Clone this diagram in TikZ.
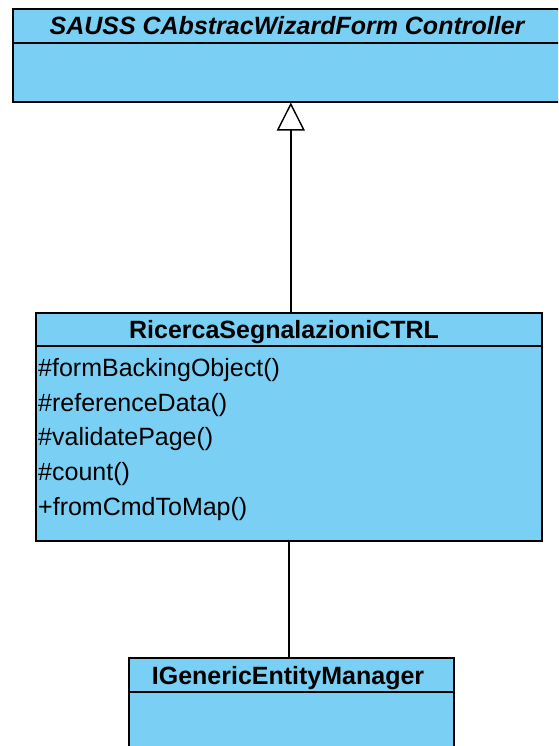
\documentclass[tikz,border=0pt]{standalone}
\usepackage{fontspec}
\setmainfont{Liberation Sans}
\usetikzlibrary{arrows.meta}
\definecolor{umlblue}{RGB}{122,207,244}
\begin{document}
\begin{tikzpicture}[x=1pt,y=-1pt,
  classbox/.style={draw=black, line width=1.6pt, fill=umlblue, rectangle, inner sep=0pt, anchor=north west},
  sepline/.style={draw=black, line width=1.6pt},
  ctitle/.style={font=\bfseries\fontsize{25}{28}\selectfont, inner sep=0pt, anchor=base},
  method/.style={font=\fontsize{25}{28}\selectfont, inner sep=0pt, anchor=base west},
  link/.style={draw=black, line width=1.4pt}]
\useasboundingbox (0,0) rectangle (558,746);
\clip (0,0) rectangle (558,746);
% superclass
\node[classbox, minimum width=570pt, minimum height=93pt] (sup) at (12,8) {};
\draw[sepline] (12,43) -- (585,43);
\node[ctitle, font=\bfseries\itshape\fontsize{25}{28}\selectfont] (supt) at (287,35) {SAUSS CAbstracWizardForm Controller};
% controller
\node[classbox, minimum width=506pt, minimum height=228pt] (mid) at (35,312) {};
\draw[sepline] (35,346) -- (541,346);
\node[ctitle] (midt) at (284,338) {RicercaSegnalazioniCTRL};
\node[method] (m1) at (38,376) {\#formBackingObject()};
\node[method] (m2) at (38,411) {\#referenceData()};
\node[method] (m3) at (38,445) {\#validatePage()};
\node[method] (m4) at (38,480) {\#count()};
\node[method] (m5) at (38,515) {+fromCmdToMap()};
% manager
\node[classbox, minimum width=325pt, minimum height=130pt] (mgr) at (128,657) {};
\draw[sepline] (128,692) -- (453,692);
\node[ctitle] (mgrt) at (288,684) {IGenericEntityManager};
% connectors
\draw[link, -{Triangle[open, length=28pt, width=28pt, line width=1.4pt]}] ([xshift=2pt]mid.north) -- ([xshift=2pt]mid.north |- sup.south);
\draw[link] (mid.south) -- (mid.south |- mgr.north);
\end{tikzpicture}
\end{document}
